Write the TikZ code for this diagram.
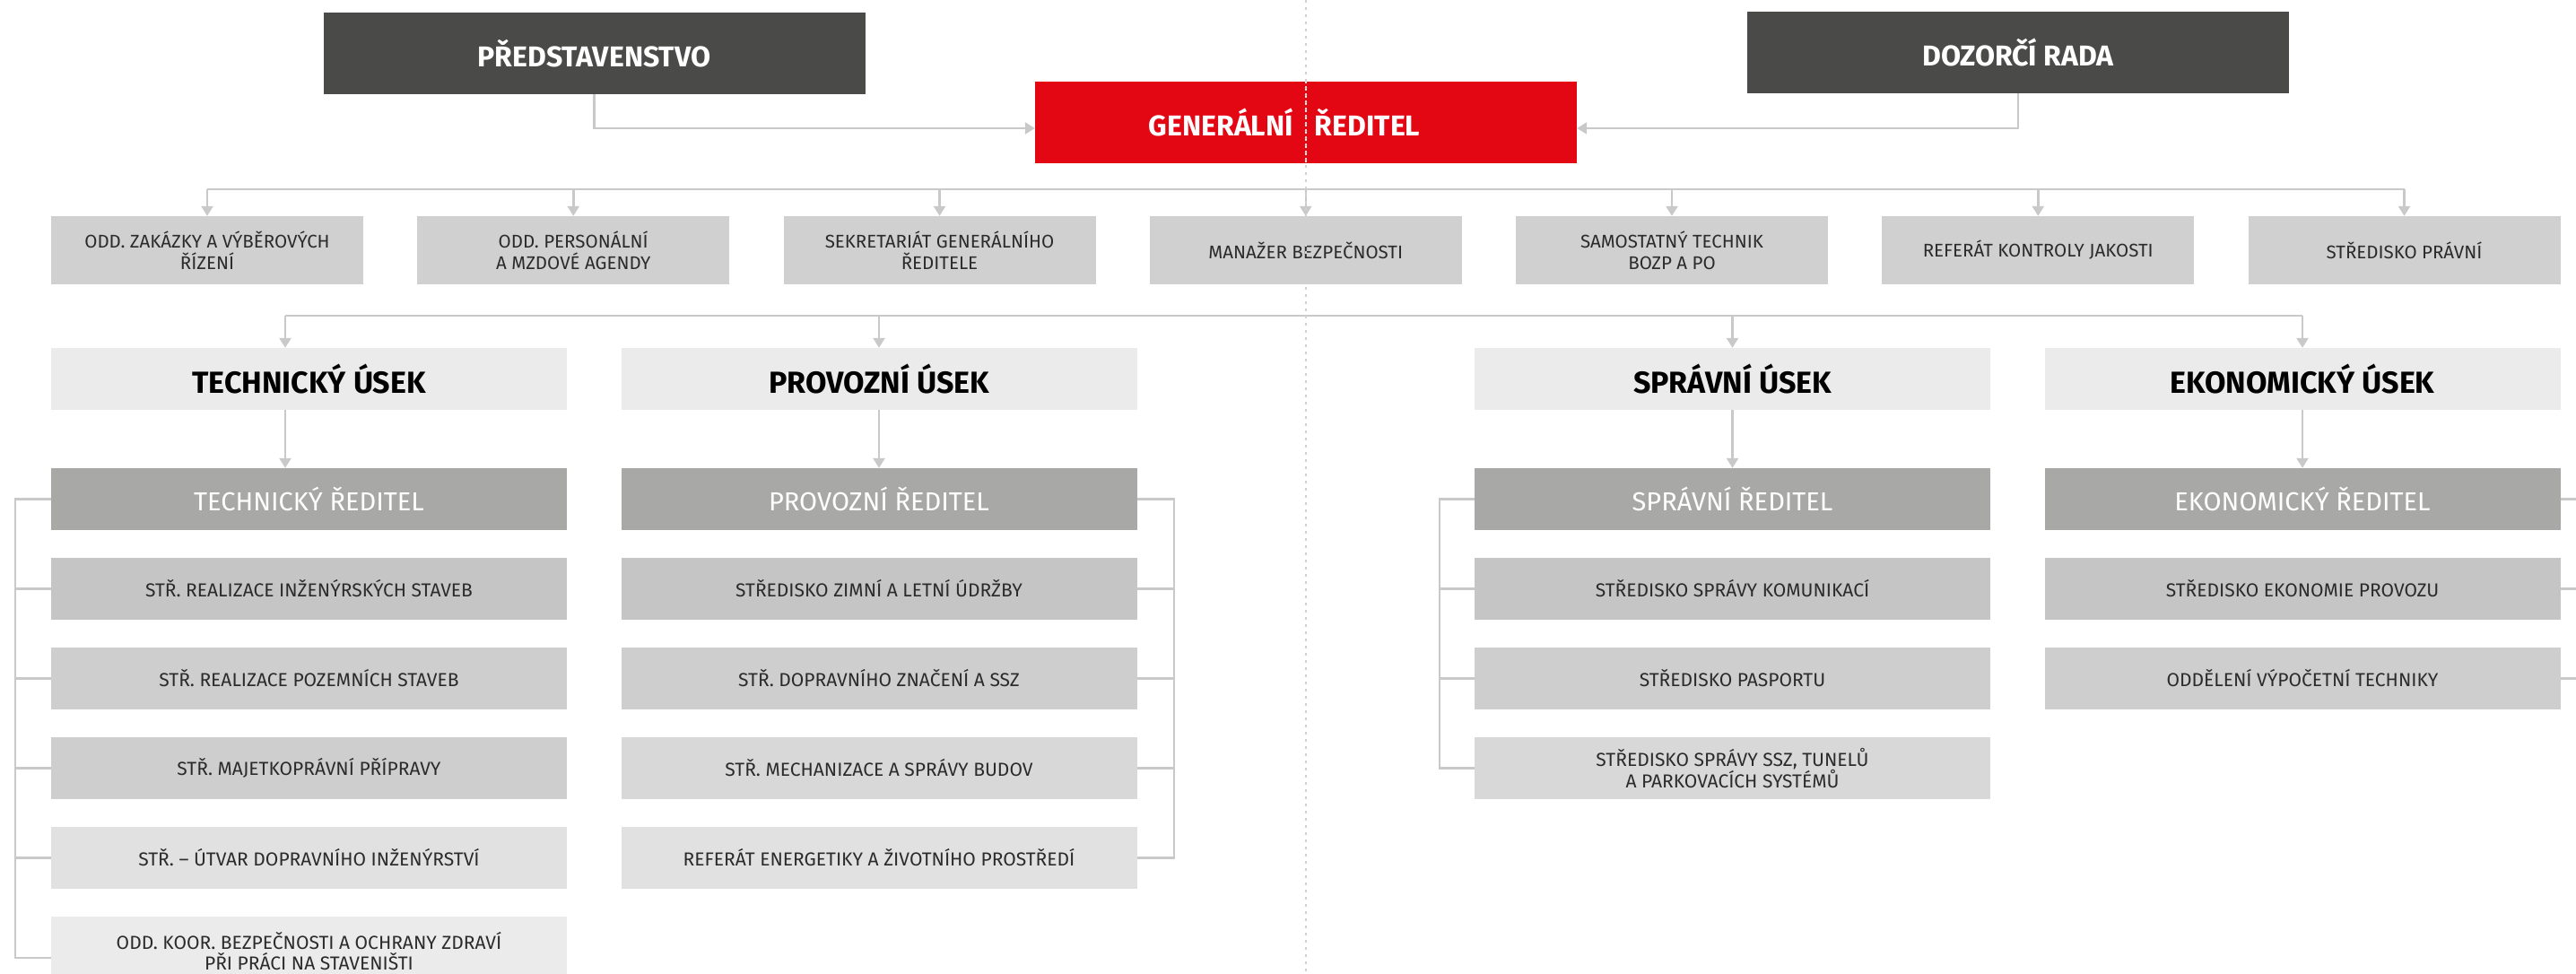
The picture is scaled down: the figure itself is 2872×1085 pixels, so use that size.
\documentclass[tikz,border=0pt]{standalone}
\usepackage{fontspec}
\setmainfont{Fira Sans}
\usetikzlibrary{arrows.meta,backgrounds}
\definecolor{cdark}{HTML}{4A4A49}
\definecolor{cred}{HTML}{E30613}
\definecolor{crow}{HTML}{D0D0D0}
\definecolor{cusek}{HTML}{EBEBEB}
\definecolor{cdir}{HTML}{A8A8A7}
\definecolor{ci1}{HTML}{C5C5C5}
\definecolor{ci2}{HTML}{CECECE}
\definecolor{ci3}{HTML}{D8D8D8}
\definecolor{ci4}{HTML}{E1E1E1}
\definecolor{ci5}{HTML}{EBEBEB}
\definecolor{cline}{HTML}{C9C9C9}
\definecolor{cdiv}{HTML}{D2D2D2}
\definecolor{ctxt}{HTML}{2B2B2B}
\tikzset{
  box/.style={inner sep=0pt, minimum height=69pt, minimum width=575pt, align=center},
  headbox/.style={inner sep=0pt, fill=cdark, text=white, minimum width=604pt, minimum height=91pt, font=\bfseries\fontsize{32}{38}\selectfont},
  gdbox/.style={headbox, fill=cred},
  deptbox/.style={inner sep=0pt, fill=crow, text=ctxt, minimum width=348pt, minimum height=76pt, align=center, font=\fontsize{20.5}{24}\selectfont},
  usekbox/.style={box, fill=cusek, text=black, font=\bfseries\fontsize{34}{40}\selectfont},
  dirbox/.style={box, fill=cdir, text=white, font=\fontsize{29}{33}\selectfont},
  itembox/.style={box, text=ctxt, font=\fontsize{21}{23}\selectfont},
  conn/.style={draw=cline, line width=2.5pt},
  arr/.style={conn, -{Triangle[width=13pt,length=11pt]}},
  divider/.style={draw=cdiv, line width=2.5pt, dash pattern=on 2.5pt off 5.5pt},
}
\begin{document}
\begin{tikzpicture}[x=1pt,y=-1pt]
\useasboundingbox (0,0) rectangle (2872,1085);
\clip (0,0) rectangle (2872,1085);
\fill[white] (0,0) rectangle (2872,1085);

% top level
\node[headbox] (pred) at (662.5,59.5) {PŘEDSTAVENSTVO};
\node[headbox] (dr) at (2250,58.5) {DOZORČÍ RADA};
\node[gdbox] (gr) at (1456,136.5) {GENERÁLNÍ\hspace{24pt}ŘEDITEL\hspace*{48pt}};

% staff departments
\node[deptbox] (d1) at (231,279) {ODD. ZAKÁZKY A VÝBĚROVÝCH\\ŘÍZENÍ};
\node[deptbox] (d2) at (639.25,279) {ODD. PERSONÁLNÍ\\A MZDOVÉ AGENDY};
\node[deptbox] (d3) at (1047.5,279) {SEKRETARIÁT GENERÁLNÍHO\\ŘEDITELE};
\node[deptbox] (d4) at (1455.75,279) {MANAŽER BEZPEČNOSTI};
\node[deptbox] (d5) at (1864,279) {SAMOSTATNÝ TECHNIK\\BOZP A PO};
\node[deptbox] (d6) at (2272.25,279) {REFERÁT KONTROLY JAKOSTI};
\node[deptbox] (d7) at (2680.5,279) {STŘEDISKO PRÁVNÍ};

% divisions
\node[usekbox] (ut) at (344.5,422.5) {TECHNICKÝ ÚSEK};
\node[usekbox] (up) at (980,422.5) {PROVOZNÍ ÚSEK};
\node[usekbox] (us) at (1931.5,422.5) {SPRÁVNÍ ÚSEK};
\node[usekbox] (ue) at (2567,422.5) {EKONOMICKÝ ÚSEK};

\node[dirbox] (rt) at (344.5,556.5) {TECHNICKÝ ŘEDITEL};
\node[dirbox] (rp) at (980,556.5) {PROVOZNÍ ŘEDITEL};
\node[dirbox] (rs) at (1931.5,556.5) {SPRÁVNÍ ŘEDITEL};
\node[dirbox] (re) at (2567,556.5) {EKONOMICKÝ ŘEDITEL};

% technical
\node[itembox, fill=ci1] (t1) at (344.5,656.5) {STŘ. REALIZACE INŽENÝRSKÝCH STAVEB};
\node[itembox, fill=ci2] (t2) at (344.5,756.5) {STŘ. REALIZACE POZEMNÍCH STAVEB};
\node[itembox, fill=ci2] (t3) at (344.5,856.5) {STŘ. MAJETKOPRÁVNÍ PŘÍPRAVY};
\node[itembox, fill=ci4] (t4) at (344.5,956.5) {STŘ. – ÚTVAR DOPRAVNÍHO INŽENÝRSTVÍ};
\node[itembox, fill=ci5, minimum height=78pt] (t5) at (344.5,1061) {ODD. KOOR. BEZPEČNOSTI A OCHRANY ZDRAVÍ\\PŘI PRÁCI NA STAVENIŠTI};

% operations
\node[itembox, fill=ci1] (p1) at (980,656.5) {STŘEDISKO ZIMNÍ A LETNÍ ÚDRŽBY};
\node[itembox, fill=ci2] (p2) at (980,756.5) {STŘ. DOPRAVNÍHO ZNAČENÍ A SSZ};
\node[itembox, fill=ci3] (p3) at (980,856.5) {STŘ. MECHANIZACE A SPRÁVY BUDOV};
\node[itembox, fill=ci4] (p4) at (980,956.5) {REFERÁT ENERGETIKY A ŽIVOTNÍHO PROSTŘEDÍ};

% administration
\node[itembox, fill=ci1] (s1) at (1931.5,656.5) {STŘEDISKO SPRÁVY KOMUNIKACÍ};
\node[itembox, fill=ci2] (s2) at (1931.5,756.5) {STŘEDISKO PASPORTU};
\node[itembox, fill=ci3] (s3) at (1931.5,856.5) {STŘEDISKO SPRÁVY SSZ, TUNELŮ\\A PARKOVACÍCH SYSTÉMŮ};

% economic
\node[itembox, fill=ci1] (e1) at (2567,656.5) {STŘEDISKO EKONOMIE PROVOZU};
\node[itembox, fill=ci2] (e2) at (2567,756.5) {ODDĚLENÍ VÝPOČETNÍ TECHNIKY};

% helper coordinates
\coordinate (busA) at (1456,211);
\coordinate (busB) at (1456,352);
\coordinate (tA) at (318,352);
\coordinate (tbx) at (17,0);
\coordinate (pbx) at (1309,0);
\coordinate (sbx) at (1605,0);
\coordinate (ebx) at (2895,0);

% trunk behind boxes
\begin{pgfonlayer}{background}
\draw[conn] (gr.south) -- (busB);
\end{pgfonlayer}

% board connectors
\draw[arr] (pred.south) |- ([yshift=-6.5pt]gr.west);
\draw[arr] (dr.south) |- ([yshift=-6.5pt]gr.east);

% staff bus
\draw[conn] (d1.north |- busA) -- (d7.north |- busA);
\foreach \n in {d1,d2,d3,d4,d5,d6,d7}{
  \draw[arr] (\n.north |- busA) -- (\n.north);
}

% division bus
\draw[conn] (tA) -- (ue.north |- busB);
\draw[arr] (tA) -- (tA |- ut.north);
\draw[arr] (tA |- ut.south) -- (tA |- rt.north);
\foreach \u/\r in {up/rp,us/rs,ue/re}{
  \draw[arr] (\u.north |- busB) -- (\u.north);
  \draw[arr] (\u.south) -- (\r.north);
}

% brackets
\draw[conn] (rt.west) -- (rt.west -| tbx) -- ([yshift=-7pt]t5.west -| tbx) -- ([yshift=-7pt]t5.west);
\foreach \n in {t1,t2,t3,t4}{ \draw[conn] (\n.west) -- (\n.west -| tbx); }
\draw[conn] (rp.east) -- (rp.east -| pbx) -- (p4.east -| pbx) -- (p4.east);
\foreach \n in {p1,p2,p3}{ \draw[conn] (\n.east) -- (\n.east -| pbx); }
\draw[conn] (rs.west) -- (rs.west -| sbx) -- (s3.west -| sbx) -- (s3.west);
\foreach \n in {s1,s2}{ \draw[conn] (\n.west) -- (\n.west -| sbx); }
\draw[conn] (re.east) -- (re.east -| ebx) -- (e2.east -| ebx) -- (e2.east);
\draw[conn] (e1.east) -- (e1.east -| ebx);

% page divider
\coordinate (dtop) at (1456,0);
\coordinate (dbot) at (1456,1085);
\draw[divider] (dtop) -- (dbot);
\draw[divider, draw=white!92!gray] (gr.north) -- (gr.south);
\end{tikzpicture}
\end{document}
